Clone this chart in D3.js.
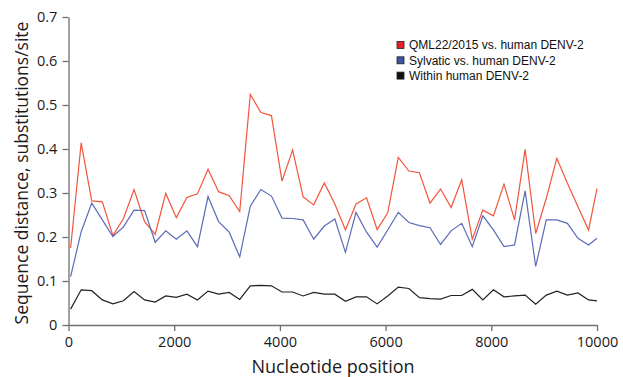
<!DOCTYPE html>
<html>
<head>
<meta charset="utf-8">
<script src="https://cdn.jsdelivr.net/npm/d3@7"></script>
<style>
	body { margin: 0; background: #fff; }
	svg { display: block; }
</style>
</head>
<body>
<svg id="chart" width="623" height="377"></svg>
<script>

	// window midpoints along the genome
	var positions = [40, 240, 440, 640, 840, 1040, 1240, 1440, 1640, 1840,
		2040, 2240, 2440, 2640, 2840, 3040, 3240, 3440, 3640, 3840,
		4040, 4240, 4440, 4640, 4840, 5040, 5240, 5440, 5640, 5840,
		6040, 6240, 6440, 6640, 6840, 7040, 7240, 7440, 7640, 7840,
		8040, 8240, 8440, 8640, 8840, 9040, 9240, 9440, 9640, 9840, 10000];

	var qmlVsHuman = [0.175, 0.414, 0.282, 0.280, 0.203, 0.242, 0.308, 0.235, 0.206, 0.299,
		0.244, 0.290, 0.298, 0.354, 0.303, 0.294, 0.258, 0.524, 0.483, 0.476,
		0.327, 0.398, 0.291, 0.273, 0.323, 0.275, 0.216, 0.275, 0.289, 0.217,
		0.255, 0.381, 0.350, 0.346, 0.277, 0.309, 0.267, 0.330, 0.195, 0.261,
		0.248, 0.320, 0.239, 0.399, 0.208, 0.288, 0.379, 0.322, 0.269, 0.216, 0.310];

	var sylvaticVsHuman = [0.110, 0.212, 0.277, 0.239, 0.201, 0.223, 0.261, 0.260, 0.188, 0.214,
		0.195, 0.214, 0.178, 0.292, 0.235, 0.211, 0.155, 0.270, 0.308, 0.293,
		0.243, 0.242, 0.239, 0.195, 0.225, 0.241, 0.165, 0.256, 0.211, 0.177,
		0.216, 0.256, 0.233, 0.226, 0.221, 0.183, 0.214, 0.231, 0.178, 0.248,
		0.216, 0.178, 0.182, 0.305, 0.133, 0.239, 0.239, 0.231, 0.197, 0.182, 0.197];

	var withinHuman = [0.036, 0.080, 0.078, 0.057, 0.048, 0.055, 0.076, 0.057, 0.052, 0.066,
		0.063, 0.070, 0.057, 0.077, 0.070, 0.074, 0.058, 0.089, 0.090, 0.089,
		0.075, 0.075, 0.066, 0.074, 0.070, 0.070, 0.054, 0.064, 0.064, 0.048,
		0.066, 0.086, 0.083, 0.062, 0.060, 0.059, 0.067, 0.067, 0.081, 0.057,
		0.080, 0.064, 0.066, 0.068, 0.047, 0.068, 0.077, 0.068, 0.073, 0.057, 0.055];

	var legendLabels = ["QML22/2015 vs. human DENV-2", "Sylvatic vs. human DENV-2", "Within human DENV-2"];
	var xTicks = [0, 2000, 4000, 6000, 8000, 10000];
	var yTicks = [0, 0.1, 0.2, 0.3, 0.4, 0.5, 0.6, 0.7];

	var lineColors = ["#f2553d", "#5b6bb8", "#222222"];
	var swatchColors = ["#e5202b", "#3b55a6", "#111111"];

	var margin = {top: 17, right: 26, bottom: 52, left: 68.5};
	var width = 623 - margin.left - margin.right;
	var height = 377 - margin.top - margin.bottom;

	var svg = d3.select("#chart");
	var g = svg.append("g")
		.attr("transform", "translate(" + margin.left + "," + margin.top + ")");

	var x = d3.scaleLinear().domain([0, 10000]).range([0, width]);
	var y = d3.scaleLinear().domain([0, 0.7]).range([height, 0]);

	var tickFont = "'Open Sans', sans-serif";

	// axes
	var xAxis = g.append("g")
		.attr("transform", "translate(0," + height + ")")
		.call(d3.axisBottom(x).tickValues(xTicks).tickSize(6).tickSizeOuter(0).tickFormat(d3.format("d")));
	var yAxis = g.append("g")
		.call(d3.axisLeft(y).tickValues(yTicks).tickSize(6).tickSizeOuter(0).tickFormat(function (d) {
			return d === 0 ? "0" : d3.format(".1f")(d);
		}));

	[xAxis, yAxis].forEach(function (ax) {
		ax.selectAll("path, line").attr("stroke", "#707070").attr("stroke-width", 1.3);
		ax.selectAll("text")
			.attr("fill", "#1a1a1a")
			.style("font-family", tickFont)
			.style("font-size", "14.5px");
	});
	xAxis.selectAll("text").attr("y", 8).attr("dy", "0.98em");
	yAxis.selectAll("text").attr("dx", "-0.15em");

	// series lines
	var series = [qmlVsHuman, sylvaticVsHuman, withinHuman];
	var line = d3.line()
		.x(function (d, i) { return x(positions[i]); })
		.y(function (d) { return y(d); });

	g.selectAll(".series")
		.data(series)
		.enter().append("path")
		.attr("class", "series")
		.attr("d", line)
		.attr("fill", "none")
		.attr("stroke", function (d, i) { return lineColors[i]; })
		.attr("stroke-width", 1.2)
		.attr("stroke-linejoin", "miter");

	// axis titles
	svg.append("text")
		.attr("x", 333)
		.attr("y", 373)
		.attr("text-anchor", "middle")
		.style("font-family", tickFont)
		.style("font-size", "18px")
		.attr("fill", "#1a1a1a")
		.text("Nucleotide position");

	svg.append("text")
		.attr("transform", "translate(28,173) rotate(-90)")
		.attr("text-anchor", "middle")
		.style("font-family", tickFont)
		.style("font-size", "17.5px")
		.attr("fill", "#1a1a1a")
		.text("Sequence distance, substitutions/site");

	// legend
	var legend = svg.selectAll(".legend")
		.data(legendLabels)
		.enter().append("g")
		.attr("class", "legend")
		.attr("transform", function (d, i) {
			return "translate(397," + (45 + i * 15.3) + ")";
		});
	legend.append("rect")
		.attr("x", 0)
		.attr("y", -3.5)
		.attr("width", 7)
		.attr("height", 7)
		.attr("fill", function (d, i) { return swatchColors[i]; })
		.attr("stroke", "#222")
		.attr("stroke-width", 0.8);
	legend.append("text")
		.attr("x", 12)
		.attr("y", 0)
		.attr("dy", "0.35em")
		.style("font-family", "'Liberation Sans', Arial, sans-serif")
		.style("font-size", "12px")
		.attr("fill", "#111")
		.text(function (d) { return d; });

</script>
</body>
</html>
